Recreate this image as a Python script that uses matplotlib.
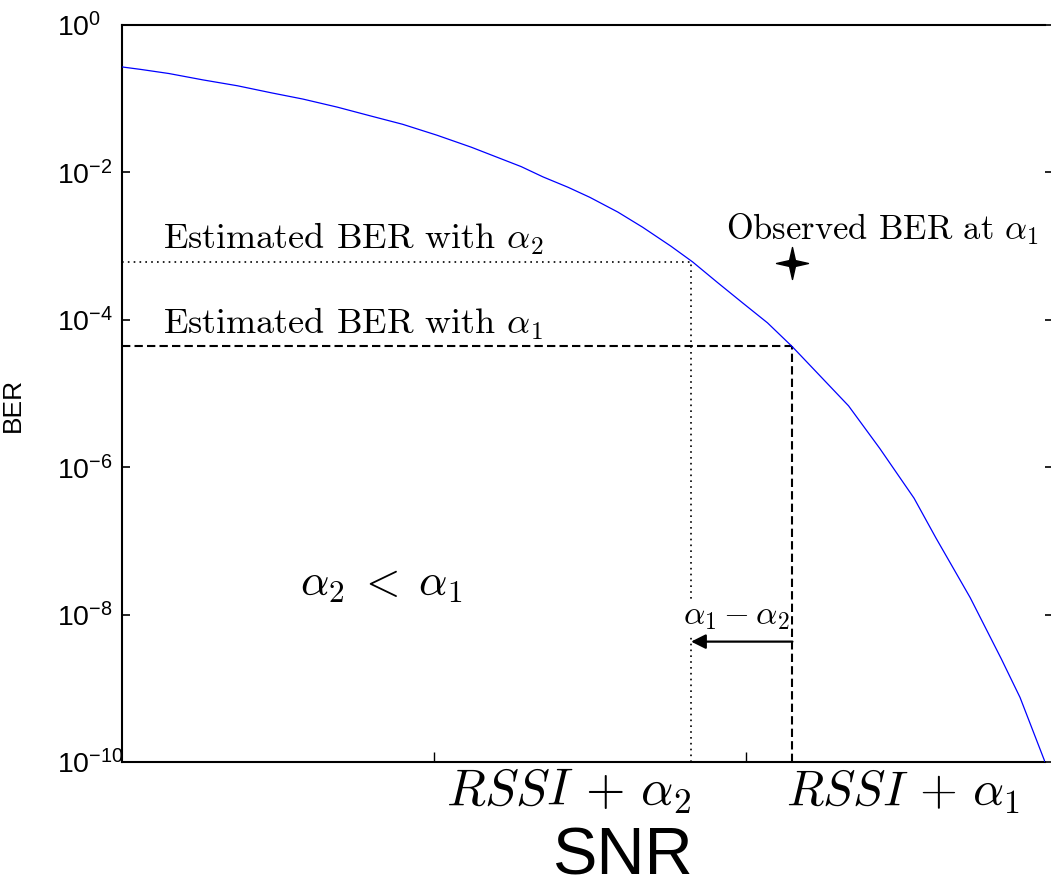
import matplotlib
matplotlib.use("Agg")
import matplotlib.pyplot as plt
import matplotlib.lines as mlines
from matplotlib.path import Path
from matplotlib.transforms import blended_transform_factory

plt.rcParams['mathtext.fontset'] = 'custom'
plt.rcParams['mathtext.rm'] = 'Liberation Sans'
plt.rcParams['mathtext.it'] = 'Liberation Sans:italic'
plt.rcParams['font.family'] = 'Liberation Sans'

# simulated BER curve (SNR in dB)
snr_db = [0, 0.6, 1.5, 2.6, 3.7, 4.8, 5.8, 6.9, 8.0, 9.0, 10.1, 11.2, 12.8,
          13.5, 14.3, 15.0, 15.9, 16.7, 17.6, 18.3, 19.1, 19.9, 20.7, 21.5,
          22.2, 23.3, 24.3, 25.4, 26.1, 27.2, 28.2, 28.8, 29.6]
ber = [2.7e-1, 2.5e-1, 2.2e-1, 1.8e-1, 1.5e-1, 1.2e-1, 9.9e-2, 7.7e-2,
       5.8e-2, 4.5e-2, 3.2e-2, 2.2e-2, 1.2e-2, 8.7e-3, 6.3e-3, 4.6e-3,
       2.9e-3, 1.8e-3, 1.0e-3, 6.1e-4, 3.2e-4, 1.7e-4, 9.1e-5, 4.3e-5,
       2.1e-5, 6.8e-6, 1.8e-6, 3.8e-7, 1.1e-7, 1.7e-8, 2.5e-9, 7.5e-10, 1.0e-10]

# operating points
snr_a2, ber_a2 = 18.25, 6.1e-4
snr_a1, ber_a1 = 21.5, 4.4e-5
observed_ber = 5.9e-4
arrow_ber = 4.3e-9

yticks = [1e-10, 1e-8, 1e-6, 1e-4, 1e-2, 1e0]
ytick_labels = ['$10^{-10}$', '$10^{-8}$', '$10^{-6}$', '$10^{-4}$', '$10^{-2}$', '$10^{0}$']
xticks = [10, 20]
xmin, xmax = 0, 29.6
ymin, ymax = 1e-10, 1e0

fig = plt.figure(figsize=(10.51, 8.88), dpi=100)
ax = fig.add_axes([0.1161, 0.1419, 0.8782, 0.8299])

ax.semilogy(snr_db, ber, color='#0000ff', lw=0.9, zorder=3)

# dotted guide for alpha_2, dashed guide for alpha_1
dots = dict(ls=(0, (1, 2.5)), color='black', lw=1.2, zorder=2)
dashes = dict(ls=(0, (4, 2)), color='black', lw=1.5, zorder=2)
ax.plot([xmin, snr_a2], [ber_a2, ber_a2], **dots)
ax.plot([snr_a2, snr_a2], [ymin, ber_a2], **dots)
ax.plot([xmin, snr_a1], [ber_a1, ber_a1], **dashes)
ax.plot([snr_a1, snr_a1], [ymin, ber_a1], **dashes)

sparkle = Path.unit_regular_star(4, 0.26)
ax.plot([snr_a1], [observed_ber], marker=sparkle, ms=23, color='black', ls='none', zorder=4)

ax.annotate('', xy=(snr_a2, arrow_ber), xytext=(snr_a1, arrow_ber),
            arrowprops=dict(arrowstyle='-|>', color='black', lw=1.6,
                            mutation_scale=22, shrinkA=0, shrinkB=0),
            zorder=6)

serif = dict(family='cmr10', math_fontfamily='cm')
ax.text(1.3, ber_a2 * 1.5, r'Estimated BER with $\alpha_2$', fontsize=26,
        va='baseline', ha='left', **serif)
ax.text(1.3, ber_a1 * 1.45, r'Estimated BER with $\alpha_1$', fontsize=26,
        va='baseline', ha='left', **serif)
ax.text(24.4, observed_ber * 2.9, r'Observed BER at $\alpha_1$', fontsize=24.8,
        va='center', ha='center', **serif)
ax.text(8.3, 2.5e-8, r'$\alpha_2 \;<\; \alpha_1$', fontsize=32,
        va='center', ha='center', **serif)
ax.text(19.69, 9e-9, r'$\alpha_1 - \alpha_2$', fontsize=24,
        va='center', ha='center', zorder=5,
        bbox=dict(facecolor='white', edgecolor='none', pad=1), **serif)

trans = blended_transform_factory(ax.transData, ax.transAxes)
ax.text(snr_a2, -0.04, r'$RSSI \,+\, \alpha_2$', fontsize=36.5, ha='right', va='center',
        transform=trans, **serif)
ax.text(snr_a1 - 0.2, -0.04, r'$RSSI \,+\, \alpha_1$', fontsize=35, ha='left', va='center',
        transform=trans, **serif)

ax.set_xlim(xmin, xmax)
ax.set_ylim(ymin, ymax)
ax.set_xticks(xticks)
ax.set_xticklabels([])
ax.set_yticks(yticks)
ax.set_yticklabels(ytick_labels, fontsize=20.5, ha='left')
ax.minorticks_off()
ax.tick_params(axis='y', direction='in', length=6, width=1.2, pad=47)
ax.tick_params(axis='y', which='both', right=True)
ax.tick_params(axis='x', direction='in', length=7, width=1.0)
# right-hand ticks point outward
for t in ax.yaxis.get_major_ticks():
    t.tick2line.set_marker(mlines.TICKRIGHT)
ax.spines['right'].set_visible(False)
for s in ['left', 'top', 'bottom']:
    ax.spines[s].set_linewidth(1.5)

ax.set_ylabel('BER', fontsize=19)
ax.yaxis.set_label_coords(-0.105, 0.485)
fig.text(0.592, 0.034, 'SNR', fontsize=48, ha='center', va='center')

fig.savefig('out.png', dpi=100)
